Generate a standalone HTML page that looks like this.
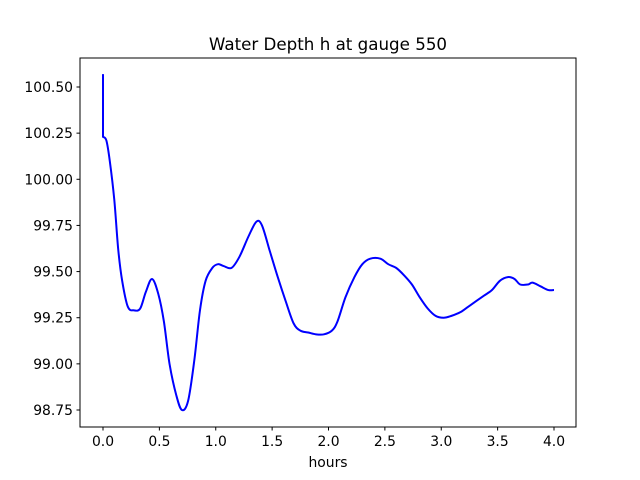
<!DOCTYPE html>
<html><head><meta charset="utf-8"><style>
body{margin:0;background:#fff;}
svg{display:block;font-family:"DejaVu Sans","Liberation Sans",sans-serif;}
</style></head><body>
<svg id="chart" width="640" height="480">
<rect x="0" y="0" width="640" height="480" fill="#fff"/>
<text x="328" y="50" text-anchor="middle" font-size="16.7">Water Depth h at gauge 550</text>
<text x="328" y="467" text-anchor="middle" font-size="13.9">hours</text>
<g id="ticks"></g>
<path id="line" fill="none" stroke="#0000ff" stroke-width="2" stroke-linejoin="round"/>
<rect x="80" y="58" width="496" height="369" fill="none" stroke="#000" stroke-width="1"/>
</svg>
<script>
const hours=[0,0,0.03,0.06,0.1,0.135,0.17,0.22,0.275,0.33,0.38,0.435,0.49,0.54,0.59,0.65,0.70,0.755,0.81,0.86,0.91,0.97,1.02,1.07,1.14,1.21,1.29,1.36,1.41,1.48,1.55,1.62,1.69,1.75,1.82,1.89,1.96,2.03,2.08,2.15,2.23,2.30,2.37,2.46,2.53,2.60,2.67,2.74,2.81,2.88,2.95,3.02,3.09,3.17,3.24,3.31,3.38,3.45,3.52,3.59,3.65,3.70,3.77,3.81,3.88,3.95,4.0];
const depth=[100.57,100.23,100.21,100.1,99.89,99.62,99.45,99.31,99.29,99.30,99.39,99.46,99.38,99.23,99.0,98.83,98.75,98.80,99.02,99.29,99.45,99.52,99.54,99.53,99.52,99.58,99.69,99.77,99.75,99.61,99.47,99.34,99.22,99.18,99.17,99.16,99.16,99.18,99.23,99.36,99.47,99.54,99.57,99.57,99.54,99.52,99.48,99.43,99.36,99.30,99.26,99.25,99.26,99.28,99.31,99.34,99.37,99.40,99.45,99.47,99.46,99.43,99.43,99.44,99.42,99.40,99.40];
const xTicks=[0,0.5,1,1.5,2,2.5,3,3.5,4];
const xTickLabels=["0.0","0.5","1.0","1.5","2.0","2.5","3.0","3.5","4.0"];
const yTicks=[98.75,99,99.25,99.5,99.75,100,100.25,100.5];
const yTickLabels=["98.75","99.00","99.25","99.50","99.75","100.00","100.25","100.50"];
const X=v=>103+(v-0)*(554-103)/4;
const Y=v=>410-(v-98.75)*(410-87)/1.75;
const NS="http://www.w3.org/2000/svg";
const g=document.getElementById('ticks');
function mk(t,a){const e=document.createElementNS(NS,t);for(const k in a)e.setAttribute(k,a[k]);return e;}
xTicks.forEach((v,i)=>{
 const l=mk('line',{x1:X(v),x2:X(v),y1:427,y2:430.5,stroke:'#000'});
 
 
 g.appendChild(l);
 const t=mk('text',{x:X(v),y:446,'text-anchor':'middle','font-size':'13.9'});
 t.textContent=xTickLabels[i];
 
 
 g.appendChild(t);
});
yTicks.forEach((v,i)=>{
 const l=mk('line',{x1:76.5,x2:80,y1:Y(v),y2:Y(v),stroke:'#000'});
 
 
 g.appendChild(l);
 const t=mk('text',{x:73,y:Y(v)+5,'text-anchor':'end','font-size':'13.9'});
 t.textContent=yTickLabels[i];
 
 
 g.appendChild(t);
});
// smooth path via Catmull-Rom
const pts=hours.map((h,i)=>[X(h),Y(depth[i])]);
let d=`M${pts[0][0]},${pts[0][1]} L${pts[1][0]},${pts[1][1]}`;
for(let i=1;i<pts.length-1;i++){
 const p0=pts[Math.max(1,i-1)],p1=pts[i],p2=pts[i+1],p3=pts[Math.min(pts.length-1,i+2)];
 const c1=[p1[0]+(p2[0]-p0[0])/6,p1[1]+(p2[1]-p0[1])/6];
 const c2=[p2[0]-(p3[0]-p1[0])/6,p2[1]-(p3[1]-p1[1])/6];
 d+=` C${c1[0]},${c1[1]} ${c2[0]},${c2[1]} ${p2[0]},${p2[1]}`;
}
document.getElementById('line').setAttribute('d',d);
</script>
</body></html>
